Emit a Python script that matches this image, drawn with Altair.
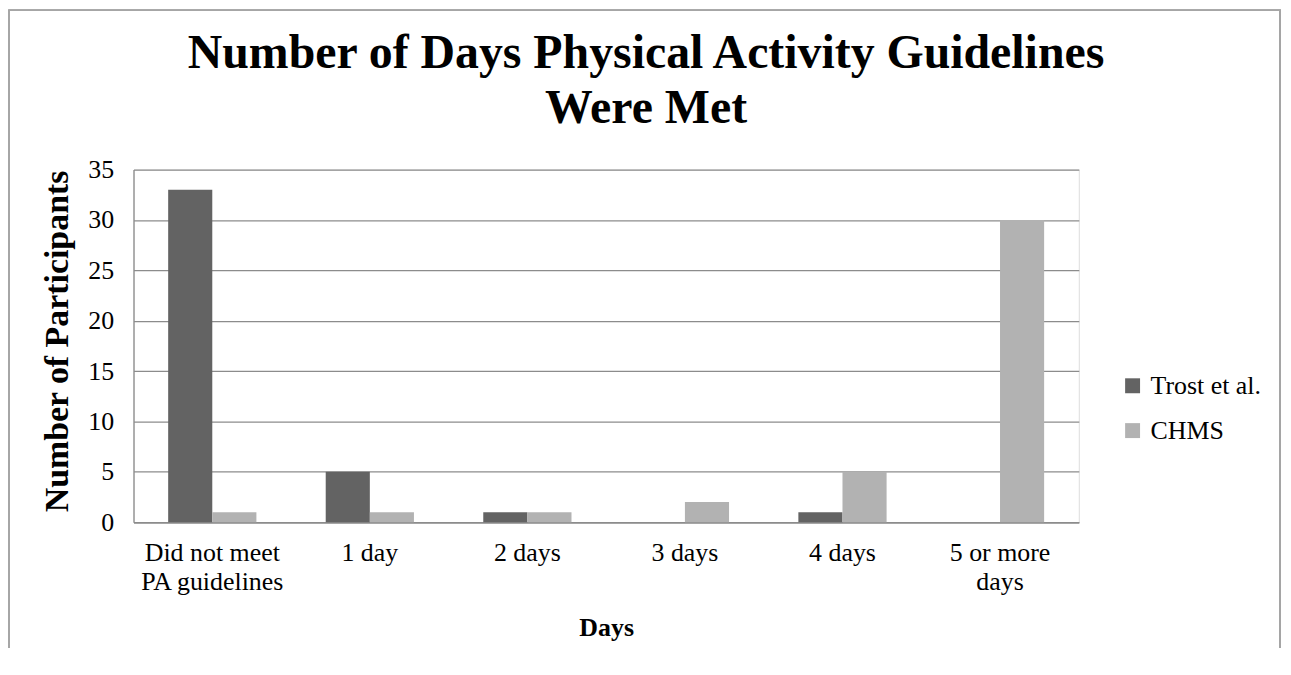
import altair as alt
import pandas as pd

categories = ["Did not meet PA guidelines", "1 day", "2 days", "3 days", "4 days", "5 or more days"]
series = ["Trost et al.", "CHMS"]
trost = [33, 5, 1, 0, 1, 0]
chms = [1, 1, 1, 2, 5, 30]
colors = ["#636363", "#b2b2b2"]
y_ticks = [0, 5, 10, 15, 20, 25, 30, 35]

rows = []
for c, a, b in zip(categories, trost, chms):
    rows.append({"Days": c, "Series": series[0], "Value": a})
    rows.append({"Days": c, "Series": series[1], "Value": b})
df = pd.DataFrame(rows)

FONT = "Liberation Serif"
W, H = 949, 354

label_expr = ("datum.value == 'Did not meet PA guidelines' ? ['Did not meet', 'PA guidelines'] : "
              "datum.value == '5 or more days' ? ['5 or more', 'days'] : datum.label")

bars = alt.Chart(df).mark_bar(strokeWidth=0).encode(
    x=alt.X("Days:N", sort=categories,
            scale=alt.Scale(paddingInner=0.44, paddingOuter=0.22),
            axis=alt.Axis(title="Days", labelAngle=0, labelExpr=label_expr,
                          labelFont=FONT, labelFontSize=26, labelColor="#000000",
                          labelLineHeight=30, labelPadding=17, ticks=False,
                          domainColor="#8c8c8c", domainWidth=1.5,
                          titleFont=FONT, titleFontSize=26, titleFontWeight="bold",
                          titleColor="#000000", titlePadding=20)),
    xOffset=alt.XOffset("Series:N", sort=series,
                        scale=alt.Scale(paddingInner=0, paddingOuter=0)),
    y=alt.Y("Value:Q", scale=alt.Scale(domain=[0, 35], nice=False),
            axis=alt.Axis(title="Number of Participants", values=y_ticks,
                          labelFont=FONT, labelFontSize=26, labelColor="#000000",
                          labelPadding=20, ticks=False, grid=True,
                          gridColor="#8c8c8c", gridWidth=1.3,
                          domainColor="#8c8c8c", domainWidth=1.3,
                          titleFont=FONT, titleFontSize=34, titleFontWeight="bold",
                          titleColor="#000000", titlePadding=13, titleY=172)),
    color=alt.Color("Series:N", sort=series,
                    scale=alt.Scale(domain=series, range=colors),
                    legend=alt.Legend(title=None, orient="none", legendX=990, legendY=204,
                                      symbolType="square", symbolSize=225,
                                      symbolStrokeWidth=0, symbolOpacity=1,
                                      labelFont=FONT, labelFontSize=26,
                                      labelColor="#000000", labelOffset=5,
                                      rowPadding=19)),
)

frame = alt.Chart(df).mark_rect(fill="transparent", stroke="#a6a6a6", strokeWidth=1.2).encode(
    x=alt.value(-125), x2=alt.value(1151), y=alt.value(-160), y2=alt.value(H + 160)
)

chart = alt.layer(frame, bars).properties(
    width=W, height=H,
    autosize=alt.AutoSizeParams(type="none"),
    padding={"left": 126, "top": 161, "right": 205, "bottom": 125},
    title=alt.Title(["Number of Days Physical Activity Guidelines", "Were Met"],
                    font=FONT, fontSize=48, fontWeight="bold", color="#000000",
                    lineHeight=55, anchor="middle", dx=40, offset=0, dy=172,
                    baseline="bottom"),
).configure_view(stroke=None).configure(background="#ffffff")

chart.save("out.html", embed_options={"renderer": "svg", "actions": False})
